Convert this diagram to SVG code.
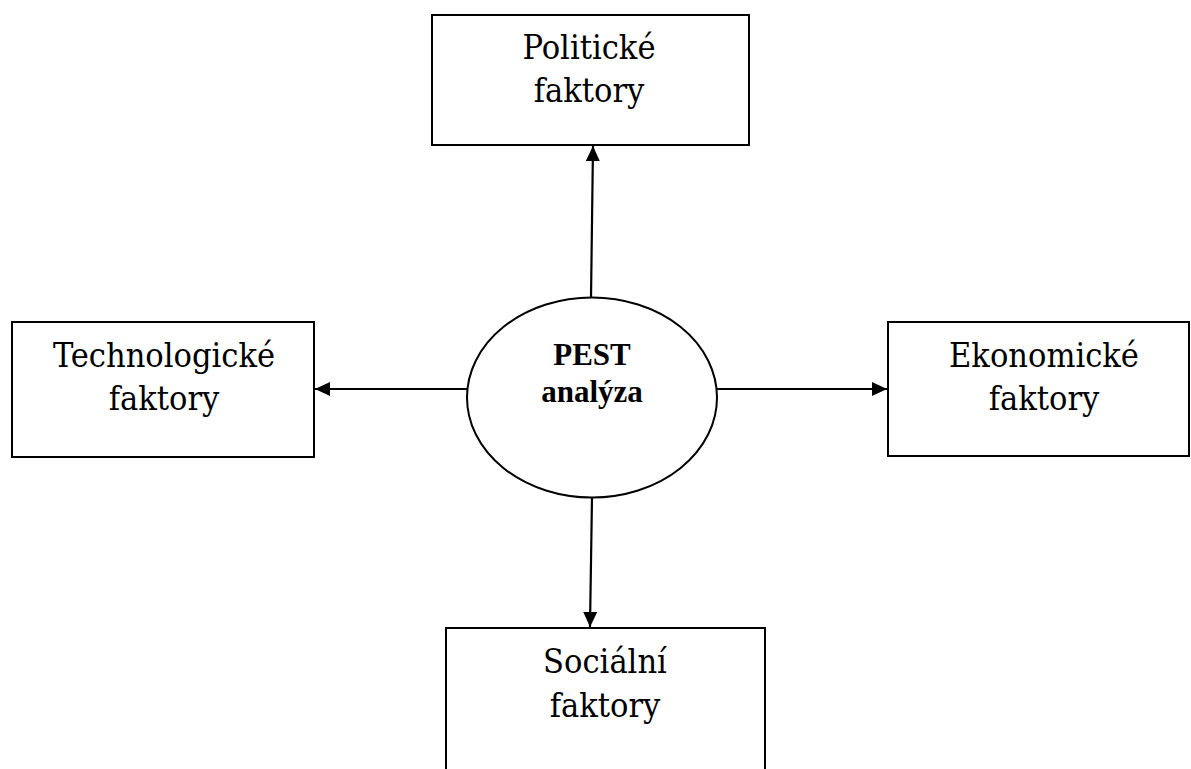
<svg xmlns="http://www.w3.org/2000/svg" width="1191" height="769" viewBox="0 0 1191 769">
  <style>
    .box { fill: #ffffff; stroke: #000000; stroke-width: 2; }
    .hub { fill: #ffffff; stroke: #000000; stroke-width: 2; }
    .label { font-family: "DejaVu Serif Condensed", "DejaVu Serif", serif; font-size: 34px; fill: #000000; text-anchor: middle; }
    .hub-label { font-family: "Liberation Serif", serif; font-size: 31px; font-weight: bold; fill: #000000; text-anchor: middle; }
    .link { stroke: #000000; stroke-width: 2.2; fill: none; marker-end: url(#head); }
  </style>
  <defs>
    <marker id="head" markerUnits="userSpaceOnUse" markerWidth="16" markerHeight="14" refX="15" refY="7" orient="auto">
      <path d="M0,0 L15,7 L0,14 Z" fill="#000000"/>
    </marker>
  </defs>
  <rect width="1191" height="769" fill="#ffffff"/>

  <!-- connectors from the centre to each factor -->
  <g id="connectors">
    <line class="link" x1="591" y1="298" x2="593" y2="146"/>
    <line class="link" x1="468" y1="389" x2="315" y2="389"/>
    <line class="link" x1="716" y1="389" x2="887" y2="389"/>
    <line class="link" x1="592" y1="497" x2="590" y2="627"/>
  </g>

  <g id="pest">
    <ellipse class="hub" cx="592" cy="397.5" rx="125" ry="100"/>
    <text class="hub-label" x="592" y="365">PEST</text>
    <text class="hub-label" x="592" y="402">analýza</text>
  </g>

  <g id="politicke">
    <rect class="box" x="432" y="15" width="317" height="130"/>
    <text class="label" x="589" y="59">Politické</text>
    <text class="label" x="589" y="102">faktory</text>
  </g>

  <g id="technologicke">
    <rect class="box" x="12" y="322" width="302" height="135"/>
    <text class="label" x="164" y="367">Technologické</text>
    <text class="label" x="164" y="410">faktory</text>
  </g>

  <g id="ekonomicke">
    <rect class="box" x="888" y="322" width="301" height="134"/>
    <text class="label" x="1044" y="367">Ekonomické</text>
    <text class="label" x="1044" y="410">faktory</text>
  </g>

  <g id="socialni">
    <rect class="box" x="446" y="628" width="319" height="160"/>
    <text class="label" x="605" y="673">Sociální</text>
    <text class="label" x="605" y="717">faktory</text>
  </g>
</svg>
